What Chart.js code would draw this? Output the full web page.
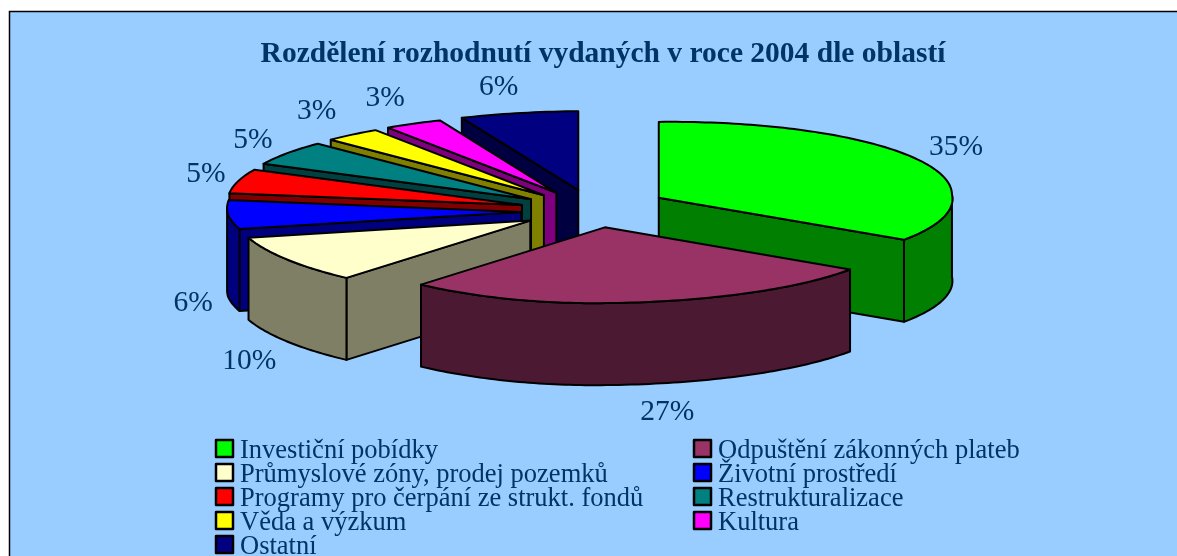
<!DOCTYPE html>
<html>
<head>
<meta charset="utf-8">
<script src="https://cdn.jsdelivr.net/npm/chart.js@4"></script>
<style>
body { margin: 0; background: #fff; }
canvas { display: block; }
</style>
</head>
<body>
<canvas id="myChart" width="1177" height="556"></canvas>
<script>
const titulo = 'Rozdělení rozhodnutí vydaných v roce 2004 dle oblastí';
const categorias = [
    'Investiční pobídky',
    'Odpuštění zákonných plateb',
    'Průmyslové zóny, prodej pozemků',
    'Životní prostředí',
    'Programy pro čerpání ze strukt. fondů',
    'Restrukturalizace',
    'Věda a výzkum',
    'Kultura',
    'Ostatní'
];
const valores = [35, 27, 10, 6, 5, 5, 3, 3, 6];
const colores = ['#00FF00', '#993366', '#FFFFCC', '#0000FF', '#FF0000', '#008080', '#FFFF00', '#FF00FF', '#000080'];

const azulTexto = '#003366';
const fuente = '"Liberation Serif", serif';

// orden de pintado del pie 3D, de atrás hacia adelante
const ordenPintado = [8, 7, 6, 5, 4, 3, 2, 0, 1];
// ajuste de cada etiqueta respecto a la punta de su porción
const ajusteEtiquetas = [[36, -16], [37, 109], [-42, 104], [-35, 91], [-34, -4], [-37, -11], [-38, -22], [-30, -24], [-21, -25]];

const vista = { desvioX: -9, escalaX: 2.17, escalaY: 0.561, escalaYFondo: 0.585, izqFondo: 0.185, izqFrente: 0.25, der: 0.125, giro: -3, explode: 0.248, alto: 82 };

const proyectar = (theta, r) => {
    const X = Math.sin(theta);
    const Z = Math.cos(theta);
    // la vista de Excel no es una elipse limpia, se corrige a cada lado
    let extra = 0;
    if (X < 0) extra = (Z > 0 ? vista.izqFondo : vista.izqFrente) * X * Z;
    else if (Z < 0) extra = -vista.der * X * Z;
    const escalaY = X < 0 && Z > 0 ? vista.escalaYFondo : vista.escalaY;
    return {
        x: r * (vista.escalaX * X + extra),
        y: -r * escalaY * Z + vista.giro * X
    };
};

// desplazamiento de la porción separada
const separar = (theta, r) => {
    const X = Math.sin(theta);
    const Z = Math.cos(theta);
    const p = proyectar(theta, r);
    if (Z < 0) p.x = r * (vista.escalaX * X + (X > 0 ? -0.12 * Z : 0));
    else if (X < 0) p.x = r * (vista.escalaX * X + 0.34 * X * Z);
    return p;
};

const puntosArco = (a, b, cx, cy, r) => {
    const pasos = Math.max(2, Math.ceil((b - a) / 0.02));
    const pts = [];
    for (let i = 0; i <= pasos; i++) {
        const p = proyectar(a + (b - a) * i / pasos, r);
        pts.push({ x: cx + p.x, y: cy + p.y });
    }
    return pts;
};

const oscurecer = (hex) => {
    const n = parseInt(hex.slice(1), 16);
    return `rgb(${(n >> 16) / 2 | 0}, ${((n >> 8) & 255) / 2 | 0}, ${(n & 255) / 2 | 0})`;
};

const poligono = (ctx, pts, relleno) => {
    ctx.beginPath();
    pts.forEach((p, i) => i ? ctx.lineTo(p.x, p.y) : ctx.moveTo(p.x, p.y));
    ctx.closePath();
    ctx.fillStyle = relleno;
    ctx.fill();
    ctx.stroke();
};

const bajar = (pts) => pts.map(p => ({ x: p.x, y: p.y + vista.alto })).reverse();

const dibujarPorcion = (ctx, el, i) => {
    const ini = el.startAngle + Math.PI / 2;
    const fin = el.endAngle + Math.PI / 2;
    const medio = (ini + fin) / 2;
    const r = el.outerRadius;
    const sep = separar(medio, r * vista.explode);
    const ax = el.x + vista.desvioX + sep.x;
    const ay = el.y + sep.y;
    const apice = { x: ax, y: ay };
    const oscuro = oscurecer(colores[i]);
    const pm = proyectar(medio, r);

    // caras radiales que miran al frente
    [ini, fin].forEach(t => {
        const p = proyectar(t, r);
        if (Math.abs(p.x) < 1) return;
        const cruz = p.x * pm.y - p.y * pm.x;
        if (p.x * cruz < 0) {
            const borde = [apice, { x: ax + p.x, y: ay + p.y }];
            poligono(ctx, [...borde, ...bajar(borde)], oscuro);
        }
    });

    // pared exterior, hasta el extremo izquierdo real del contorno
    const desde = Math.max(ini, Math.PI / 2);
    const hasta = Math.min(fin, Math.PI * 1.53);
    if (hasta > desde) {
        const arco = puntosArco(desde, hasta, ax, ay, r);
        poligono(ctx, [...arco, ...bajar(arco)], oscuro);
    }

    poligono(ctx, [apice, ...puntosArco(ini, fin, ax, ay, r)], colores[i]);
};

const pie3D = {
    id: 'pie3D',
    beforeDraw(chart) {
        const ctx = chart.ctx;
        ctx.save();
        ctx.fillStyle = '#99CCFF';
        ctx.strokeStyle = '#000';
        ctx.lineWidth = 1.5;
        // el marco sigue más allá de la captura por la derecha y por abajo
        ctx.fillRect(9.5, 11.5, 1180, 560);
        ctx.strokeRect(9.5, 11.5, 1180, 560);
        ctx.restore();
    },
    beforeDatasetsDraw(chart) {
        const ctx = chart.ctx;
        const arcos = chart.getDatasetMeta(0).data;

        ctx.save();
        ctx.strokeStyle = '#000';
        ctx.lineWidth = 2;
        ctx.lineJoin = 'round';
        ordenPintado.forEach(i => dibujarPorcion(ctx, arcos[i], i));

        // etiquetas de porcentaje
        ctx.fillStyle = azulTexto;
        ctx.font = `29.5px ${fuente}`;
        ctx.textAlign = 'center';
        ctx.textBaseline = 'middle';
        arcos.forEach((el, i) => {
            const medio = (el.startAngle + el.endAngle) / 2 + Math.PI / 2;
            const p = proyectar(medio, el.outerRadius * (1 + vista.explode));
            ctx.fillText(`${valores[i]}%`, el.x + vista.desvioX + p.x + ajusteEtiquetas[i][0], el.y + p.y + ajusteEtiquetas[i][1]);
        });

        // leyenda en dos columnas
        ctx.font = `26.5px ${fuente}`;
        ctx.textAlign = 'left';
        ctx.lineWidth = 2.5;
        categorias.forEach((nombre, i) => {
            const x = i % 2 ? 694 : 216;
            const y = 450 + 24 * Math.floor(i / 2);
            ctx.fillStyle = colores[i];
            ctx.fillRect(x, y - 10, 17, 17);
            ctx.strokeRect(x, y - 10, 17, 17);
            ctx.fillStyle = azulTexto;
            ctx.fillText(nombre, x + 24, y + 1);
        });
        ctx.restore();
        return false;
    }
};

new Chart(document.querySelector('#myChart'), {
    type: 'pie',
    data: {
        labels: categorias,
        datasets: [{ data: valores, backgroundColor: colores, borderWidth: 0 }]
    },
    options: {
        responsive: false,
        animation: false,
        layout: { padding: { left: 40, right: 11, top: 0, bottom: 212 } },
        plugins: {
            legend: { display: false },
            tooltip: { enabled: false },
            title: {
                display: true,
                text: titulo,
                color: azulTexto,
                font: { family: fuente, size: 29.5, weight: 'bold' },
                padding: { top: 37, bottom: 1.4 }
            }
        }
    },
    plugins: [pie3D]
});
</script>
</body>
</html>
